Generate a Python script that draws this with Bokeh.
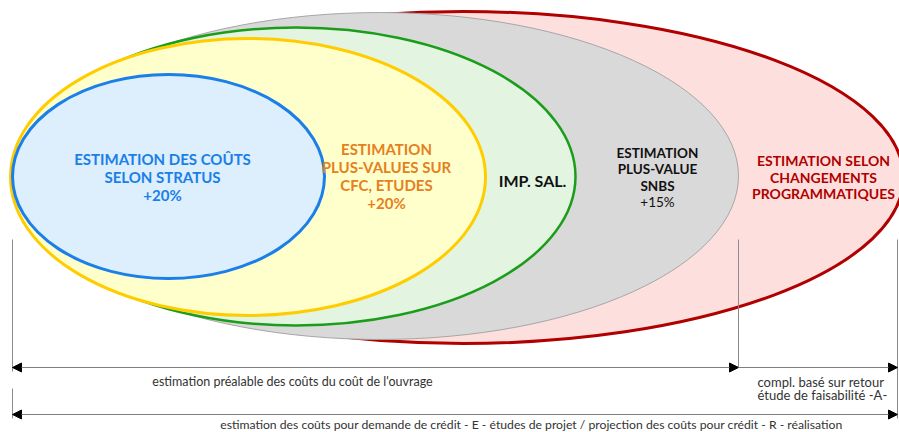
from bokeh.plotting import figure
from bokeh.models import Range1d, ColumnDataSource, Arrow, NormalHead
from bokeh.core.properties import value
from bokeh.embed import file_html
from bokeh.resources import INLINE

# ---- data: nested estimation envelopes (extents) ----
env_names = ["changements", "snbs", "imp_sal", "plus_values", "stratus"]
env_left = [22, 20, 16, 10, 12]
env_right = [903, 738, 575, 485, 324]
env_top = [11, 12, 27, 38, 74]
env_bottom = [343, 339, 325, 315, 278]

# labels
blue_lines = ["ESTIMATION DES COÛTS", "SELON STRATUS", "+20%"]
orange_lines = ["ESTIMATION", "PLUS-VALUES SUR", "CFC, ETUDES", "+20%"]
green_label = "IMP. SAL."
black_lines = ["ESTIMATION", "PLUS-VALUE", "SNBS"]
black_pct = "+15%"
red_lines = ["ESTIMATION SELON", "CHANGEMENTS", "PROGRAMMATIQUES"]
bottom_label_1 = "estimation préalable des coûts du coût de l'ouvrage"
bottom_label_2 = ["compl. basé sur retour", "étude de faisabilité -A-"]
bottom_label_3 = ("estimation des coûts pour demande de crédit - E - études de projet / "
                  "projection des coûts pour crédit - R - réalisation")

# phase boundaries (x positions of the timeline marks)
phase_x = [12, 738, 897]

# ---- styles ----
fills = ["#FDE0DE", "#D9D9D9", "#E3F5E1", "#FFFFCC", "#DDEEFD"]
lines = ["#B00000", "#A6A6A6", "#1A9E1A", "#FFCC00", "#1A7FE8"]
widths = [3, 1, 2.5, 3, 3]

p = figure(width=899, height=432, x_range=Range1d(0, 899), y_range=Range1d(432, 0),
           output_backend="svg", toolbar_location=None, min_border=0,
           x_axis_location=None, y_axis_location=None)
p.grid.visible = False
p.outline_line_color = None
p.background_fill_color = "white"

cx = [(l + r) / 2 for l, r in zip(env_left, env_right)]
cy = [(t + b) / 2 for t, b in zip(env_top, env_bottom)]
w = [r - l for l, r in zip(env_left, env_right)]
h = [b - t for t, b in zip(env_top, env_bottom)]
for i in range(len(env_names)):
    p.ellipse(x=[cx[i]], y=[cy[i]], width=[w[i]], height=[h[i]],
              fill_color=fills[i], line_color=lines[i], line_width=widths[i])

FONT = value("Lato")


def block(lines_, x, y0, dy, color, size, style="bold"):
    ys = [y0 + k * dy for k in range(len(lines_))]
    p.text(x=[x] * len(lines_), y=ys, text=lines_, text_align="center",
           text_baseline="middle", text_font=FONT, text_font_style=style,
           text_font_size=size, text_color=color)


block(blue_lines, 162, 158, 18, "#1A7FE8", "15px")
block(orange_lines, 386, 148, 18, "#E5801E", "15px")
block([green_label], 532, 180, 0, "#111111", "16px")
block(black_lines, 657, 152, 16.5, "#111111", "13.5px")
block([black_pct], 657, 201, 0, "#111111", "13.5px", style="normal")
block(red_lines, 823, 160, 16.5, "#B00000", "14px")

# ---- timeline ----
gray = "#7F7F7F"
p.segment(x0=[phase_x[0], phase_x[0], phase_x[1], phase_x[2]],
          y0=[239, 388, 239, 239],
          x1=[phase_x[0], phase_x[0], phase_x[1], phase_x[2]],
          y1=[371, 418, 367, 418], line_color="#8C8C8C", line_width=1)

both = ColumnDataSource(dict(x0=[phase_x[0], phase_x[0]], y0=[367, 414],
                             x1=[phase_x[1], phase_x[2]], y1=[367, 414]))
one = ColumnDataSource(dict(x0=[phase_x[1]], y0=[367], x1=[phase_x[2]], y1=[367]))
p.add_layout(Arrow(source=both, x_start="x0", y_start="y0", x_end="x1", y_end="y1",
                   line_color=gray, line_width=1.2,
                   start=NormalHead(size=9, fill_color="black", line_color="black"),
                   end=NormalHead(size=9, fill_color="black", line_color="black")))
p.add_layout(Arrow(source=one, x_start="x0", y_start="y0", x_end="x1", y_end="y1",
                   line_color=gray, line_width=1.2,
                   end=NormalHead(size=9, fill_color="black", line_color="black")))

p.text(x=[292], y=[381], text=[bottom_label_1], text_align="center", text_baseline="middle",
       text_font=FONT, text_font_size="12.5px", text_color="#333333")
p.text(x=[757, 757], y=[381, 394], text=bottom_label_2, text_align="left",
       text_baseline="middle", text_font=FONT, text_font_size="13px", text_color="#333333")
p.text(x=[531], y=[424], text=[bottom_label_3], text_align="center", text_baseline="middle",
       text_font=FONT, text_font_size="12.2px", text_color="#333333")

open("out.html", "w").write(file_html(p, INLINE))
